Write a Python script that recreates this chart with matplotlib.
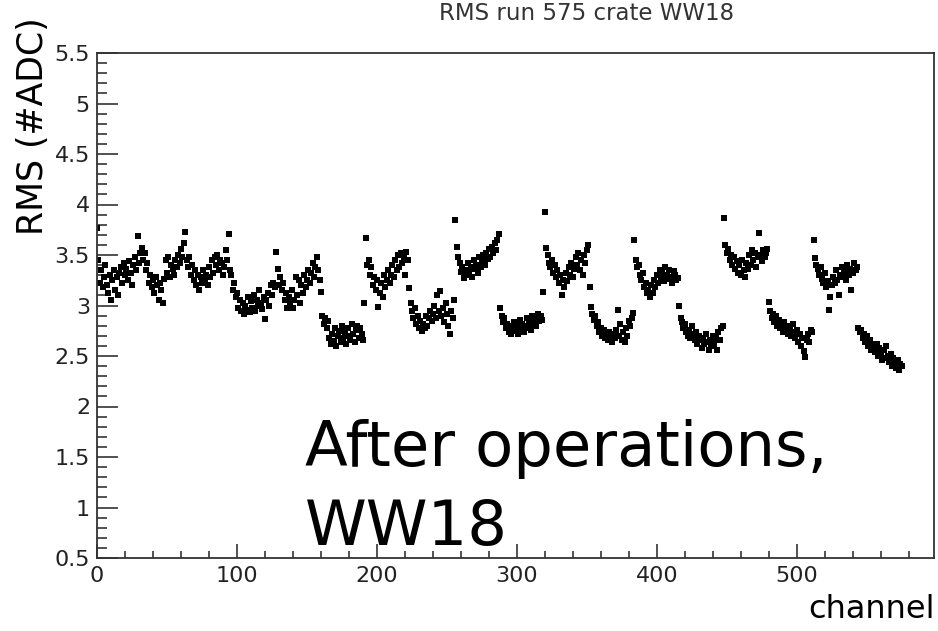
import numpy as np
import matplotlib
matplotlib.use("Agg")
import matplotlib.pyplot as plt
from matplotlib.ticker import MultipleLocator

# RMS values per group of 32 channels
g00 = [3.77, 3.45, 3.22, 3.35, 3.18, 3.28, 3.40, 3.20, 3.12, 3.30, 3.05, 3.25, 3.35, 3.15, 3.28, 3.10,
       3.32, 3.38, 3.22, 3.42, 3.30, 3.36, 3.25, 3.44, 3.32, 3.20, 3.40, 3.48, 3.35, 3.69, 3.42, 3.52]
g01 = [3.57, 3.45, 3.52, 3.35, 3.42, 3.22, 3.30, 3.18, 3.25, 3.12, 3.28, 3.20, 3.05, 3.22, 3.15, 3.02,
       3.26, 3.45, 3.32, 3.48, 3.28, 3.40, 3.36, 3.30, 3.45, 3.38, 3.50, 3.42, 3.56, 3.48, 3.62, 3.73]
g02 = [3.45, 3.38, 3.48, 3.30, 3.40, 3.25, 3.35, 3.20, 3.30, 3.15, 3.28, 3.22, 3.35, 3.25, 3.30, 3.20,
       3.38, 3.28, 3.45, 3.32, 3.48, 3.40, 3.50, 3.35, 3.45, 3.42, 3.30, 3.38, 3.55, 3.45, 3.71, 3.35]
g03 = [3.30, 3.15, 3.22, 3.08, 3.12, 2.98, 3.05, 2.95, 3.02, 2.92, 3.00, 2.96, 3.08, 2.94, 3.04, 2.98,
       3.10, 2.95, 3.05, 3.00, 3.15, 3.02, 2.97, 3.08, 2.87, 3.05, 3.12, 3.00, 3.20, 3.10, 3.22, 3.18]
g04 = [3.53, 3.36, 3.20, 3.28, 3.15, 3.22, 3.05, 3.12, 2.98, 3.08, 3.02, 3.15, 2.98, 3.05, 3.28, 3.10,
       3.25, 3.02, 3.20, 3.12, 3.30, 3.18, 3.25, 3.35, 3.22, 3.32, 3.42, 3.28, 3.38, 3.48, 3.35, 3.25]
g05 = [3.13, 2.90, 2.82, 2.88, 2.78, 2.85, 2.68, 2.62, 2.72, 2.65, 2.78, 2.60, 2.70, 2.75, 2.64, 2.80,
       2.68, 2.74, 2.62, 2.78, 2.70, 2.66, 2.82, 2.72, 2.64, 2.76, 2.80, 2.68, 2.78, 2.72, 2.66, 3.02]
g06 = [3.67, 3.40, 3.45, 3.30, 3.38, 3.20, 3.28, 3.15, 3.25, 2.99, 3.12, 3.22, 3.08, 3.30, 3.18, 3.25,
       3.35, 3.22, 3.30, 3.40, 3.28, 3.45, 3.35, 3.50, 3.38, 3.52, 3.42, 3.48, 3.30, 3.53, 3.45, 3.17]
g07 = [3.02, 2.95, 2.88, 2.98, 2.82, 2.90, 2.78, 2.85, 2.75, 2.82, 2.78, 2.90, 2.80, 2.88, 2.95, 2.85,
       2.92, 3.00, 2.88, 3.10, 2.95, 3.14, 2.90, 2.98, 2.84, 3.02, 2.92, 2.80, 2.72, 2.95, 2.88, 3.05]
g08 = [3.85, 3.58, 3.48, 3.42, 3.33, 3.38, 3.27, 3.35, 3.30, 3.42, 3.32, 3.38, 3.28, 3.45, 3.36, 3.40,
       3.32, 3.48, 3.38, 3.44, 3.50, 3.40, 3.52, 3.46, 3.56, 3.48, 3.58, 3.52, 3.62, 3.55, 3.65, 3.71]
g09 = [2.98, 2.90, 2.84, 2.88, 2.78, 2.82, 2.74, 2.80, 2.72, 2.78, 2.84, 2.75, 2.80, 2.72, 2.86, 2.76,
       2.82, 2.74, 2.80, 2.88, 2.78, 2.84, 2.76, 2.90, 2.82, 2.88, 2.80, 2.92, 2.85, 2.90, 2.86, 3.13]
g10 = [3.93, 3.57, 3.50, 3.42, 3.38, 3.45, 3.32, 3.40, 3.28, 3.35, 3.22, 3.30, 3.10, 3.25, 3.18, 3.32,
       3.24, 3.38, 3.30, 3.42, 3.28, 3.36, 3.48, 3.40, 3.52, 3.35, 3.45, 3.30, 3.50, 3.42, 3.55, 3.60]
g11 = [3.18, 2.99, 2.92, 2.86, 2.90, 2.80, 2.84, 2.74, 2.78, 2.70, 2.76, 2.68, 2.72, 2.66, 2.74, 2.70,
       2.64, 2.72, 2.68, 2.76, 2.96, 2.70, 2.82, 2.66, 2.74, 2.64, 2.78, 2.70, 2.85, 2.80, 2.88, 2.93]
g12 = [3.65, 3.45, 3.38, 3.40, 3.30, 3.25, 3.32, 3.18, 3.22, 3.12, 3.15, 3.08, 3.20, 3.12, 3.25, 3.18,
       3.30, 3.22, 3.35, 3.28, 3.32, 3.24, 3.38, 3.30, 3.26, 3.35, 3.28, 3.22, 3.34, 3.30, 3.25, 3.27]
g13 = [3.00, 2.88, 2.84, 2.78, 2.82, 2.74, 2.70, 2.76, 2.68, 2.80, 2.72, 2.66, 2.74, 2.62, 2.70, 2.66,
       2.58, 2.68, 2.62, 2.72, 2.64, 2.56, 2.66, 2.60, 2.70, 2.62, 2.68, 2.56, 2.74, 2.66, 2.78, 2.80]
g14 = [3.87, 3.60, 3.52, 3.56, 3.45, 3.50, 3.40, 3.48, 3.36, 3.44, 3.32, 3.40, 3.30, 3.45, 3.35, 3.28,
       3.42, 3.36, 3.50, 3.40, 3.55, 3.45, 3.52, 3.38, 3.48, 3.72, 3.50, 3.44, 3.55, 3.48, 3.52, 3.56]
g15 = [3.03, 2.95, 2.88, 2.92, 2.84, 2.90, 2.80, 2.86, 2.78, 2.82, 2.74, 2.84, 2.76, 2.80, 2.72, 2.78,
       2.70, 2.82, 2.74, 2.68, 2.76, 2.64, 2.72, 2.60, 2.68, 2.55, 2.49, 2.66, 2.72, 2.64, 2.76, 2.74]
g16 = [3.65, 3.47, 3.40, 3.36, 3.30, 3.38, 3.26, 3.22, 3.32, 3.18, 3.24, 2.96, 3.08, 3.20, 3.28, 3.22,
       3.35, 3.25, 3.10, 3.30, 3.38, 3.28, 3.34, 3.25, 3.40, 3.30, 3.36, 3.15, 3.32, 3.42, 3.35, 3.38]
g17 = [2.78, 2.74, 2.76, 2.68, 2.72, 2.64, 2.70, 2.60, 2.66, 2.56, 2.62, 2.58, 2.54, 2.62, 2.50, 2.58,
       2.52, 2.46, 2.56, 2.48, 2.60, 2.50, 2.44, 2.52, 2.40, 2.48, 2.42, 2.38, 2.46, 2.36, 2.42, 2.40]

groups = [g00, g01, g02, g03, g04, g05, g06, g07, g08, g09,
          g10, g11, g12, g13, g14, g15, g16, g17]
rms = np.concatenate([np.array(g, dtype=float) for g in groups])
channel = np.arange(len(rms))

title = "RMS run 575 crate WW18"
ylabel = "RMS (#ADC)"
xlabel = "channel"
note = "After operations,\nWW18"

W, H = 938, 631
fig = plt.figure(figsize=(W / 100, H / 100), dpi=100)
ax = fig.add_axes([97 / W, 1 - 558 / H, (934 - 97) / W, (558 - 53) / H])

ax.plot(channel, rms, linestyle="none", marker="s", markersize=3.8,
        markeredgewidth=0, color="black")

ax.set_xlim(0, 598)
ax.set_ylim(0.5, 5.5)
ax.xaxis.set_major_locator(MultipleLocator(100))
ax.xaxis.set_minor_locator(MultipleLocator(20))
ax.yaxis.set_minor_locator(MultipleLocator(0.1))
ax.set_yticks(np.arange(0.5, 5.51, 0.5))
ax.set_yticklabels(["0.5", "1", "1.5", "2", "2.5", "3", "3.5", "4", "4.5", "5", "5.5"])

tick_col = "#222222"
ax.tick_params(axis="both", which="both", direction="in", colors=tick_col,
               labelsize=16, width=1.1)
ax.tick_params(axis="y", which="major", length=15, pad=5)
ax.tick_params(axis="y", which="minor", length=7.5)
ax.tick_params(axis="x", which="major", length=10, pad=6)
ax.tick_params(axis="x", which="minor", length=5)
for sp in ax.spines.values():
    sp.set_linewidth(1.3)
    sp.set_color("#333333")

fig.text(587 / W, 1 - 14 / H, title, ha="center", va="center",
         fontsize=16.5, color="#333333", family="DejaVu Sans")
fig.text(33 / W, 1 - 126 / H, ylabel, rotation=90, ha="center", va="center",
         fontsize=25, color="black", family="DejaVu Sans")
fig.text(935 / W, 1 - 610 / H, xlabel, ha="right", va="center",
         fontsize=23, color="black", family="DejaVu Sans")
fig.text(305 / W, 1 - 545 / H, note, ha="left", va="baseline",
         fontsize=45, color="black", family="DejaVu Sans", linespacing=1.4)

fig.savefig("out.png", dpi=100)
